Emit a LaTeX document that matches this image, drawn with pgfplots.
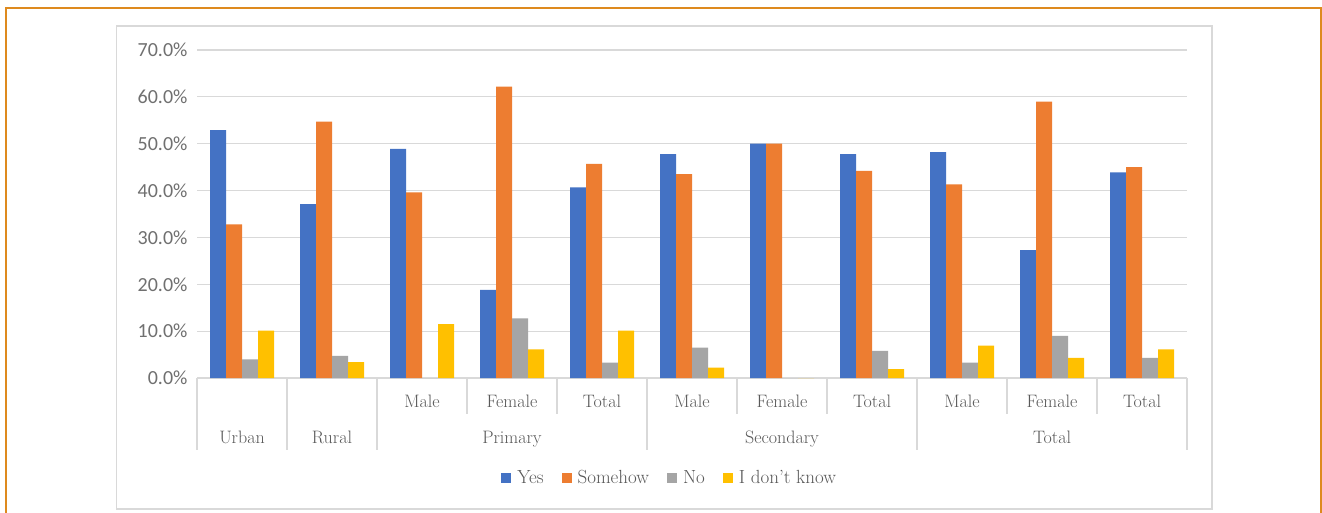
\documentclass[border=0pt]{standalone}
\usepackage{fontspec}
\usepackage{pgfplots}
\pgfplotsset{compat=1.18}
\usepackage{pgfplotstable}
\newfontfamily\tickfont{Carlito}

\definecolor{cYes}{RGB}{68,114,196}
\definecolor{cSome}{RGB}{237,125,49}
\definecolor{cNo}{RGB}{165,165,165}
\definecolor{cIdk}{RGB}{255,192,0}
\definecolor{txt}{RGB}{89,89,89}
\definecolor{ticktxt}{RGB}{112,112,112}
\definecolor{gridc}{RGB}{217,217,217}
\definecolor{framec}{RGB}{222,138,30}

% share of answers (percent) per group
\pgfplotstableread{
idx yes  some no   idk
0   52.9 32.8 4.0  10.1
1   37.1 54.7 4.7  3.4
2   48.9 39.6 0.0  11.5
3   18.8 62.2 12.7 6.1
4   40.7 45.7 3.3  10.1
5   47.8 43.5 6.5  2.2
6   50.0 50.0 0.0  0.0
7   47.8 44.2 5.8  1.9
8   48.2 41.3 3.3  6.9
9   27.3 59.0 9.0  4.3
10  43.9 45.0 4.3  6.1
}\answers

\pgfplotsset{
  sqlegend/.style={legend image code/.code={\fill[##1] (0pt,-5pt) rectangle (10pt,5pt);}},
}
\tikzset{catlabel/.style={anchor=base, text=txt, font=\fontsize{18}{22}\selectfont}}

\begin{document}
\begin{tikzpicture}
\useasboundingbox (0pt,0pt) rectangle (1322pt,512pt);
\fill[white] (0pt,0pt) rectangle (1322pt,512pt);
% outer frame and chart area border
\draw[framec, line width=2.5pt] (6pt,-10pt) -- (6pt,504pt) -- (1321pt,504pt) -- (1321pt,-10pt);
\draw[gridc, line width=1.5pt] (116.7pt,3pt) rectangle (1212pt,486pt);

\begin{axis}[
  at={(197pt,134pt)}, anchor=south west,
  width=990pt, height=328pt, scale only axis,
  xmin=-0.5, xmax=10.5, ymin=0, ymax=70,
  ybar=0pt, bar width=16pt,
  axis line style={draw=none}, major tick length=0pt,
  ymajorgrids, grid style={gridc, line width=1.2pt},
  ytick={0,10,...,70},
  yticklabel={\pgfmathprintnumber[fixed,fixed zerofill,precision=1,assume math mode=true]{\tick}\%},
  yticklabel style={font=\tickfont\fontsize{20}{24}\selectfont, text=ticktxt, xshift=-6pt},
  xtick=\empty,
  clip=false,
  legend columns=-1,
  legend style={at={(0.477,-0.305)}, anchor=center, draw=none, fill=none,
    font=\fontsize{19}{22}\selectfont, text=txt,
    nodes={inner sep=1pt},
    /tikz/every odd column/.append style={column sep=5pt},
    /tikz/every even column/.append style={column sep=17pt}},
]
\addplot[fill=cYes, draw=none, sqlegend] table[x=idx, y=yes] {\answers};
\addplot[fill=cSome, draw=none, sqlegend] table[x=idx, y=some] {\answers};
\addplot[fill=cNo, draw=none, sqlegend] table[x=idx, y=no] {\answers};
\addplot[fill=cIdk, draw=none, sqlegend] table[x=idx, y=idk] {\answers};
\legend{Yes, Somehow, No, I don’t know}

% category separators
\pgfplotsinvokeforeach{-0.5,0.5,1.5,4.5,7.5,10.5}{
  \draw[gridc, line width=1.2pt] (axis cs:#1,0) -- ++(0pt,-72pt);
}
\pgfplotsinvokeforeach{2.5,3.5,5.5,6.5,8.5,9.5}{
  \draw[gridc, line width=1.2pt] (axis cs:#1,0) -- ++(0pt,-36pt);
}

% category labels, first row
\node[catlabel] at ([yshift=-29pt]axis cs:2,0) {Male};
\node[catlabel] at ([yshift=-29pt]axis cs:3,0) {Female};
\node[catlabel] at ([yshift=-29pt]axis cs:4,0) {Total};
\node[catlabel] at ([yshift=-29pt]axis cs:5,0) {Male};
\node[catlabel] at ([yshift=-29pt]axis cs:6,0) {Female};
\node[catlabel] at ([yshift=-29pt]axis cs:7,0) {Total};
\node[catlabel] at ([yshift=-29pt]axis cs:8,0) {Male};
\node[catlabel] at ([yshift=-29pt]axis cs:9,0) {Female};
\node[catlabel] at ([yshift=-29pt]axis cs:10,0) {Total};
% category labels, second row
\node[catlabel] at ([yshift=-65pt]axis cs:0,0) {Urban};
\node[catlabel] at ([yshift=-65pt]axis cs:1,0) {Rural};
\node[catlabel] at ([yshift=-65pt]axis cs:3,0) {Primary};
\node[catlabel] at ([yshift=-65pt]axis cs:6,0) {Secondary};
\node[catlabel] at ([yshift=-65pt]axis cs:9,0) {Total};
\end{axis}
\end{tikzpicture}
\end{document}
